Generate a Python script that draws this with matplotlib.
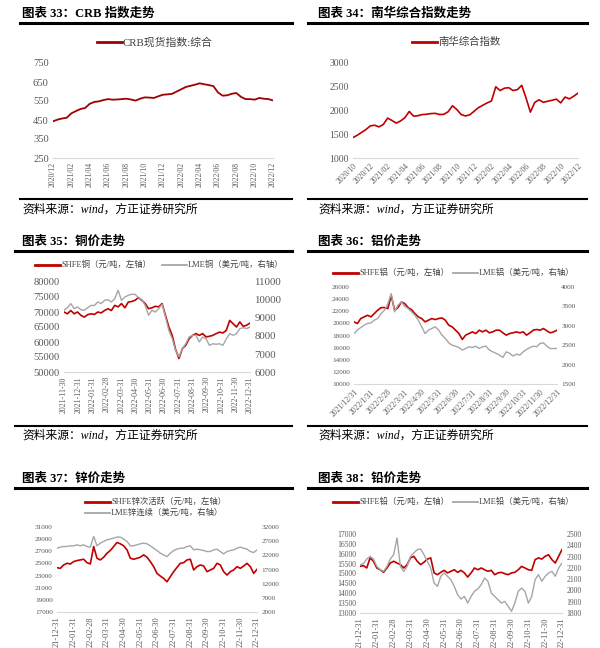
import numpy as np
import matplotlib
matplotlib.use("Agg")
import matplotlib.pyplot as plt
from matplotlib.lines import Line2D

# ---------------- data ----------------
crb_labels = ['2020/12', '2021/02', '2021/04', '2021/06', '2021/08', '2021/10', '2021/12',
              '2022/02', '2022/04', '2022/06', '2022/08', '2022/10', '2022/12']
crb = [443, 452, 458, 462, 485, 497, 508, 513, 535, 545, 548, 555, 560, 557, 558, 560, 562,
       558, 552, 562, 569, 568, 566, 575, 583, 585, 588, 600, 612, 624, 630, 636, 643, 638,
       634, 628, 595, 578, 580, 588, 592, 572, 560, 560, 557, 566, 562, 560, 553]

nh_labels = ['2020/10', '2020/12', '2021/02', '2021/04', '2021/06', '2021/08', '2021/10',
             '2021/12', '2022/02', '2022/04', '2022/06', '2022/08', '2022/10', '2022/12']
nanhua = [1430, 1480, 1540, 1600, 1676, 1690, 1655, 1705, 1840, 1790, 1735, 1780, 1850, 1980,
          1880, 1890, 1915, 1920, 1935, 1940, 1915, 1920, 1975, 2100, 2020, 1915, 1885, 1910,
          1985, 2060, 2110, 2160, 2200, 2500, 2420, 2470, 2480, 2420, 2440, 2530, 2260, 1966,
          2170, 2225, 2172, 2195, 2215, 2240, 2160, 2283, 2245, 2300, 2366]

cu_labels = ['2021-11-30', '2021-12-31', '2022-01-31', '2022-02-28', '2022-03-31', '2022-04-30',
             '2022-05-31', '2022-06-30', '2022-07-31', '2022-08-31', '2022-09-30', '2022-10-31',
             '2022-11-30', '2022-12-31']
cu_shfe = [70000, 69400, 70500, 69400, 70000, 68900, 68300, 69100, 69400, 69200, 70000, 69700,
           70500, 71100, 70500, 72200, 71700, 72800, 71400, 73300, 73500, 73900, 74800, 73900,
           72800, 71100, 71400, 71900, 71700, 72800, 68900, 65000, 62200, 57500, 54500, 57800,
           58900, 61100, 62200, 62800, 62200, 62800, 61700, 61900, 62200, 62800, 63300, 63000,
           63900, 67200, 66100, 65000, 66700, 65200, 65600, 66300]
cu_lme = [9430, 9570, 9800, 9520, 9610, 9460, 9430, 9570, 9700, 9700, 9890, 9800, 9980, 10020,
          9890, 10070, 10540, 9980, 10170, 10260, 10320, 10320, 10130, 10020, 9700, 9150, 9430,
          9330, 9520, 9760, 9060, 8310, 7850, 7200, 6850, 7300, 7570, 7940, 8040, 8040, 7670,
          7940, 7850, 7480, 7570, 7540, 7570, 7480, 7850, 8130, 8040, 8130, 8410, 8460, 8410, 8500]

al_labels = ['2021/12/31', '2022/1/31', '2022/2/28', '2022/3/31', '2022/4/30', '2022/5/31',
             '2022/6/30', '2022/7/31', '2022/8/31', '2022/9/30', '2022/10/31', '2022/11/30',
             '2022/12/31']
al_shfe = [20250, 19970, 20800, 21070, 21340, 21070, 21620, 22170, 22600, 22600, 22440, 24600,
           22170, 22600, 23530, 23260, 22600, 22270, 21620, 21070, 20800, 20250, 20520, 20800,
           20630, 20800, 20900, 20520, 19700, 19430, 18880, 18330, 17340, 18060, 18330, 18600,
           18330, 18880, 18600, 18880, 18440, 18600, 18880, 18880, 18440, 18060, 18330, 18440,
           18600, 18440, 18600, 18060, 18440, 18880, 18990, 18880, 19150, 18770, 18440, 18600,
           18880]
al_lme = [2800, 2890, 2955, 3015, 3060, 3075, 3145, 3190, 3315, 3400, 3570, 3830, 3360, 3530,
          3615, 3500, 3445, 3360, 3270, 3145, 2975, 2800, 2890, 2930, 2975, 2890, 2760, 2675,
          2560, 2500, 2475, 2440, 2375, 2415, 2460, 2440, 2475, 2415, 2460, 2475, 2375, 2330,
          2290, 2245, 2185, 2330, 2290, 2220, 2270, 2245, 2330, 2390, 2440, 2475, 2460, 2545,
          2560, 2475, 2415, 2415, 2415]

zn_labels = ['21-12-31', '22-01-31', '22-02-28', '22-03-31', '22-04-30', '22-05-31', '22-06-30',
             '22-07-31', '22-08-31', '22-09-30', '22-10-31', '22-11-30', '22-12-31']
zn_shfe = [24300, 24190, 24750, 25020, 24910, 25300, 25470, 25580, 25690, 25130, 24910, 27790,
           25850, 25580, 26020, 26680, 27130, 27790, 28450, 28230, 27900, 27240, 25850, 25690,
           25850, 26020, 26410, 26020, 25300, 24470, 23360, 22920, 22530, 21980, 22810, 23640,
           24360, 25020, 25130, 25580, 25690, 23920, 24470, 24750, 24580, 23640, 23920, 24190,
           25020, 24750, 23640, 23090, 23640, 23920, 24470, 24190, 24580, 25020, 24470, 23360,
           24030]
zn_lme = [24530, 24880, 25120, 25120, 25360, 25360, 25710, 25360, 25710, 25120, 24880, 28680,
          25360, 26310, 26900, 27490, 27730, 28090, 28440, 28440, 27730, 26900, 25360, 25360,
          25710, 26070, 26310, 26070, 25360, 24530, 23700, 22750, 22160, 21560, 22750, 23700,
          24170, 24530, 24530, 25120, 25360, 23940, 24170, 23940, 23700, 23340, 23340, 23940,
          24170, 23340, 22510, 23340, 23700, 23940, 24530, 24880, 24530, 24170, 23340, 22990,
          23940]

pb_labels = zn_labels
pb_shfe = [15360, 15400, 15280, 15790, 15620, 15280, 15190, 15060, 15280, 15530, 15620, 15530,
           15450, 15280, 15450, 15790, 15870, 15620, 15450, 15570, 15730, 15790, 15030, 14940,
           15060, 15160, 15030, 15110, 15190, 15060, 15160, 15030, 14820, 15030, 15280, 15190,
           15280, 15190, 15110, 15160, 14940, 15030, 15060, 14990, 14940, 15030, 15060, 15190,
           15360, 15280, 15190, 15160, 15700, 15790, 15730, 15870, 15950, 15700, 15530, 15870,
           16210]
pb_lme = [2228, 2237, 2278, 2302, 2278, 2213, 2184, 2169, 2213, 2278, 2317, 2465, 2213, 2169,
          2213, 2302, 2332, 2361, 2367, 2317, 2258, 2199, 2066, 2036, 2125, 2154, 2125, 2095,
          2036, 1962, 1924, 1947, 1888, 1947, 1992, 2013, 2051, 2110, 2081, 1977, 1947, 1918,
          1888, 1903, 1859, 1815, 1888, 1992, 2021, 1992, 1888, 1947, 2095, 2140, 2081, 2125,
          2154, 2169, 2125, 2199, 2243]

# ---------------- styling helpers ----------------
plt.rcParams['font.family'] = ['Liberation Serif', 'Noto Sans CJK SC']

RED = '#C00000'
GRAY = '#A6A6A6'
TICK = '#595959'
W, H = 600, 648

fig = plt.figure(figsize=(6, 6.48), dpi=100)


def fx(x):
    return x / W


def fy(y):
    return 1 - y / H


def hline(x0, x1, y, lw=2.0, color='black'):
    fig.add_artist(Line2D([fx(x0), fx(x1)], [fy(y), fy(y)], lw=lw, color=color,
                          transform=fig.transFigure))


def title(x, y, s):
    fig.text(fx(x), fy(y), s, fontsize=9, fontweight='bold', va='center', ha='left')


def source(x, y):
    fig.text(fx(x), fy(y), '资料来源：wind，方正证券研究所', fontsize=8.5, style='italic',
             va='center', ha='left')


def legend_item(x, y, color, label, lw=2.0, size=6):
    hline(x, x + 25, y, lw=lw, color=color)
    fig.text(fx(x + 26), fy(y), label, fontsize=size, color='#404040', va='center', ha='left')


def make_axes(l, t, r, b, size):
    ax = fig.add_axes([fx(l), fy(b), (r - l) / W, (b - t) / H])
    for s in ['top', 'right', 'left']:
        ax.spines[s].set_visible(False)
    ax.spines['bottom'].set_color('#D9D9D9')
    ax.tick_params(length=0, labelsize=size, labelcolor=TICK, pad=3)
    return ax


def right_axis(ax, lo, hi, step, size):
    ax2 = ax.twinx()
    for s in ax2.spines.values():
        s.set_visible(False)
    ax2.set_ylim(lo, hi)
    ax2.set_yticks(np.arange(lo, hi + 1, step))
    ax2.tick_params(length=0, labelsize=size, labelcolor=TICK, pad=3)
    return ax2


def set_x(ax, n, labels, rot, size=5.5):
    ax.set_xlim(0, n - 1)
    ax.set_xticks(np.linspace(0, n - 1, len(labels)))
    if rot == 90:
        ax.set_xticklabels(labels, rotation=90, fontsize=size)
    else:
        ax.set_xticklabels(labels, rotation=45, ha='right', rotation_mode='anchor', fontsize=size)


# ---------------- 图表 33 ----------------
title(22, 14, '图表 33：CRB 指数走势')
hline(20, 292, 23, lw=2.2)
legend_item(97, 42, '#A00000', 'CRB现货指数:综合', size=7.8)
ax = make_axes(53, 63, 273, 158, 7.6)
ax.plot(np.arange(len(crb)), crb, color='#A00000', lw=1.3)
ax.set_ylim(250, 750)
ax.set_yticks(np.arange(250, 751, 100))
set_x(ax, len(crb), crb_labels, 90)
hline(20, 292, 199, lw=1.5)
source(22, 210)

# ---------------- 图表 34 ----------------
title(318, 14, '图表 34：南华综合指数走势')
hline(308, 587, 23, lw=2.2)
legend_item(412, 42, RED, '南华综合指数', size=7.5)
ax = make_axes(353, 63, 578, 158, 7)
ax.plot(np.arange(len(nanhua)), nanhua, color=RED, lw=1.2)
ax.set_ylim(1000, 3000)
ax.set_yticks(np.arange(1000, 3001, 500))
set_x(ax, len(nanhua), nh_labels, 45)
hline(308, 587, 199, lw=1.5)
source(318, 210)

# ---------------- 图表 35 ----------------
title(22, 242, '图表 35：铜价走势')
hline(15, 292, 251, lw=2.2)
legend_item(35, 265, RED, 'SHFE铜（元/吨，左轴）')
legend_item(162, 265, GRAY, 'LME铜（美元/吨，右轴）', lw=1.3)
ax = make_axes(64, 282, 250, 372, 7.6)
ax.plot(np.arange(len(cu_shfe)), cu_shfe, color=RED, lw=1.2)
ax.set_ylim(50000, 80000)
ax.set_yticks(np.arange(50000, 80001, 5000))
set_x(ax, len(cu_shfe), cu_labels, 90, 5.7)
ax2 = right_axis(ax, 6000, 11000, 1000, 7.8)
ax2.plot(np.arange(len(cu_lme)), cu_lme, color=GRAY, lw=1.0)
hline(15, 292, 426, lw=1.5)
source(22, 436)

# ---------------- 图表 36 ----------------
title(318, 242, '图表 36：铝价走势')
hline(308, 587, 251, lw=2.2)
legend_item(333, 273, RED, 'SHFE铝（元/吨，左轴）')
legend_item(453, 273, GRAY, 'LME铝（美元/吨，右轴）', lw=1.3)
ax = make_axes(354, 287, 557, 384, 5.2)
ax.plot(np.arange(len(al_shfe)), al_shfe, color=RED, lw=1.2)
ax.set_ylim(10000, 26000)
ax.set_yticks(np.arange(10000, 26001, 2000))
set_x(ax, len(al_shfe), al_labels, 45)
ax2 = right_axis(ax, 1500, 4000, 500, 5.2)
ax2.plot(np.arange(len(al_lme)), al_lme, color=GRAY, lw=1.0)
hline(308, 587, 426, lw=1.5)
source(318, 436)

# ---------------- 图表 37 ----------------
title(22, 479, '图表 37：锌价走势')
hline(15, 292, 488, lw=2.2)
legend_item(85, 502, RED, 'SHFE锌次活跃（元/吨，左轴）')
legend_item(85, 513, GRAY, 'LME锌连续（美元/吨，右轴）', lw=1.3)
ax = make_axes(57, 527, 257, 612, 5.2)
ax.plot(np.arange(len(zn_shfe)), zn_shfe, color=RED, lw=1.2)
ax.set_ylim(17000, 31000)
ax.set_yticks(np.arange(17000, 31001, 2000))
set_x(ax, len(zn_shfe), zn_labels, 90, 6)
ax2 = right_axis(ax, 2000, 32000, 5000, 5.2)
ax2.plot(np.arange(len(zn_lme)), zn_lme, color=GRAY, lw=1.0)

# ---------------- 图表 38 ----------------
title(318, 479, '图表 38：铅价走势')
hline(308, 587, 488, lw=2.2)
legend_item(333, 502, RED, 'SHFE铅（元/吨，左轴）')
legend_item(453, 502, GRAY, 'LME铅（美元/吨，右轴）', lw=1.3)
ax = make_axes(360, 534, 562, 613, 5.5)
ax.plot(np.arange(len(pb_shfe)), pb_shfe, color=RED, lw=1.2)
ax.set_ylim(13000, 17000)
ax.set_yticks(np.arange(13000, 17001, 500))
set_x(ax, len(pb_shfe), pb_labels, 90, 6)
ax2 = right_axis(ax, 1800, 2500, 100, 5.5)
ax2.plot(np.arange(len(pb_lme)), pb_lme, color=GRAY, lw=1.0)

fig.savefig('out.png', dpi=100)
